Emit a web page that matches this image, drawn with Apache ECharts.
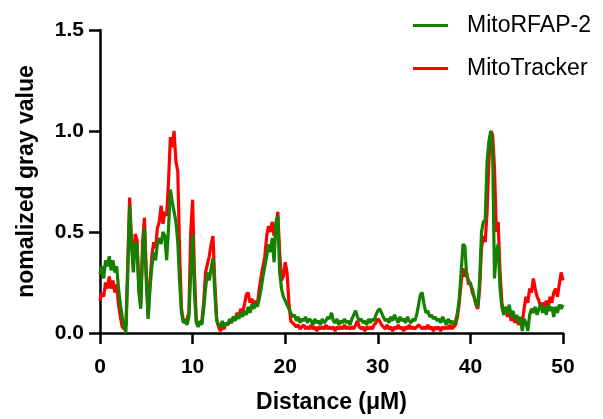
<!DOCTYPE html>
<html>
<head>
<meta charset="utf-8">
<script src="https://cdn.jsdelivr.net/npm/echarts@6/dist/echarts.min.js"></script>
<style>
  html, body { margin: 0; padding: 0; background: #fff; }
  #chart { width: 603px; height: 419px; }
</style>
</head>
<body>
<div id="chart"></div>
<script>
// Line-profile sampling interval along the distance axis (µM)
const distanceStep = 0.2;

// MitoRFAP-2 intensity profile, one row per 2 µM
const mitoRfap2 = [
  0.29,0.33,0.27,0.36,0.33,0.38,0.31,0.36,0.30,0.33,
  0.22,0.14,0.08,0.03,0.00,0.30,0.63,0.44,0.30,0.45,
  0.43,0.20,0.12,0.40,0.52,0.25,0.07,0.22,0.33,0.40,
  0.36,0.44,0.47,0.44,0.50,0.48,0.36,0.52,0.71,0.65,
  0.60,0.55,0.45,0.25,0.10,0.05,0.07,0.04,0.08,0.30,
  0.49,0.20,0.05,0.03,0.06,0.04,0.12,0.22,0.30,0.26,
  0.32,0.37,0.20,0.06,0.04,0.03,0.06,0.03,0.05,0.04,
  0.07,0.05,0.08,0.06,0.09,0.07,0.10,0.08,0.11,0.09,
  0.13,0.10,0.14,0.12,0.15,0.13,0.17,0.22,0.28,0.33,
  0.38,0.44,0.40,0.47,0.35,0.55,0.58,0.30,0.22,0.18,
  0.16,0.14,0.12,0.10,0.08,0.09,0.06,0.08,0.05,0.07,
  0.06,0.08,0.05,0.07,0.06,0.04,0.07,0.05,0.06,0.04,
  0.07,0.05,0.06,0.08,0.07,0.10,0.06,0.05,0.07,0.04,
  0.06,0.05,0.07,0.05,0.06,0.04,0.07,0.09,0.11,0.08,
  0.06,0.07,0.05,0.06,0.04,0.07,0.05,0.07,0.06,0.09,
  0.11,0.12,0.10,0.08,0.06,0.07,0.05,0.08,0.06,0.09,
  0.07,0.05,0.08,0.06,0.07,0.05,0.08,0.06,0.05,0.07,
  0.06,0.09,0.14,0.19,0.20,0.14,0.10,0.11,0.08,0.09,
  0.07,0.08,0.06,0.07,0.05,0.08,0.06,0.04,0.07,0.05,
  0.06,0.04,0.06,0.10,0.17,0.30,0.44,0.43,0.28,0.26,
  0.24,0.22,0.18,0.15,0.13,0.26,0.50,0.55,0.56,0.85,
  0.95,1.00,0.90,0.27,0.40,0.44,0.22,0.13,0.09,0.13,
  0.10,0.14,0.08,0.11,0.07,0.09,0.05,0.08,0.01,0.07,
  0.05,0.01,0.09,0.12,0.10,0.13,0.09,0.12,0.14,0.10,
  0.13,0.09,0.14,0.11,0.13,0.08,0.13,0.10,0.14,0.12,
  0.14
];

// MitoTracker intensity profile, one row per 2 µM
const mitoTracker = [
  0.16,0.20,0.18,0.25,0.22,0.28,0.22,0.26,0.20,0.24,
  0.14,0.08,0.03,0.02,0.04,0.35,0.67,0.46,0.33,0.49,
  0.46,0.22,0.14,0.45,0.57,0.30,0.08,0.25,0.38,0.45,
  0.42,0.52,0.55,0.63,0.54,0.60,0.58,0.75,0.97,0.92,
  1.00,0.85,0.80,0.40,0.12,0.06,0.05,0.07,0.10,0.50,
  0.66,0.30,0.06,0.04,0.05,0.06,0.15,0.30,0.34,0.38,
  0.44,0.48,0.25,0.07,0.03,0.01,0.03,0.02,0.05,0.04,
  0.06,0.05,0.08,0.07,0.10,0.08,0.12,0.10,0.14,0.19,
  0.20,0.15,0.17,0.12,0.16,0.14,0.22,0.28,0.33,0.38,
  0.48,0.53,0.50,0.55,0.48,0.52,0.60,0.40,0.26,0.28,
  0.35,0.30,0.15,0.06,0.05,0.04,0.03,0.04,0.02,0.03,
  0.04,0.02,0.03,0.02,0.04,0.02,0.03,0.01,0.03,0.02,
  0.03,0.02,0.04,0.02,0.03,0.02,0.03,0.01,0.03,0.02,
  0.03,0.02,0.04,0.02,0.03,0.02,0.03,0.02,0.04,0.06,
  0.03,0.02,0.03,0.01,0.03,0.02,0.03,0.02,0.04,0.05,
  0.07,0.06,0.04,0.03,0.02,0.04,0.02,0.03,0.01,0.03,
  0.02,0.04,0.02,0.03,0.01,0.03,0.02,0.04,0.02,0.03,
  0.02,0.03,0.04,0.03,0.02,0.03,0.02,0.04,0.02,0.03,
  0.01,0.03,0.02,0.03,0.01,0.03,0.02,0.03,0.02,0.04,
  0.02,0.03,0.04,0.08,0.15,0.25,0.32,0.28,0.30,0.24,
  0.25,0.20,0.18,0.14,0.12,0.22,0.42,0.48,0.45,0.60,
  0.85,1.00,0.98,0.82,0.50,0.55,0.30,0.15,0.10,0.12,
  0.08,0.11,0.06,0.09,0.05,0.08,0.04,0.07,0.05,0.12,
  0.18,0.15,0.22,0.20,0.27,0.22,0.18,0.16,0.12,0.15,
  0.13,0.16,0.12,0.18,0.15,0.20,0.22,0.18,0.24,0.30,
  0.26
];

const seriesNames = ['MitoRFAP-2', 'MitoTracker'];
const xTicks = [0, 10, 20, 30, 40, 50];
const yTicks = [0, 0.5, 1.0, 1.5];

const toPairs = vals => vals.map((v, i) => [i * distanceStep, v]);

const AXIS_FONT = 'Liberation Sans, Arial, sans-serif';
const GREEN = '#168000';
const RED = '#ff0000';

const chart = echarts.init(document.getElementById('chart'), null, { renderer: 'canvas' });

const axisCommon = {
  axisLine: { show: true, lineStyle: { color: '#000', width: 2.5 } },
  axisTick: { show: true, length: 11, lineStyle: { color: '#000', width: 2.5 } },
  splitLine: { show: false }
};

chart.setOption({
  animation: false,
  backgroundColor: '#fff',
  grid: { left: 100, right: 40, top: 30, bottom: 81, containLabel: false },
  legend: {
    data: seriesNames,
    orient: 'vertical',
    left: 413,
    top: 14,
    icon: 'rect',
    itemWidth: 35,
    itemHeight: 3,
    itemGap: 20,
    padding: 0,
    textStyle: { fontFamily: AXIS_FONT, fontSize: 23, color: '#000', padding: [0, 0, 0, 14] }
  },
  xAxis: Object.assign({}, axisCommon, {
    type: 'value',
    min: xTicks[0],
    max: xTicks[xTicks.length - 1],
    interval: xTicks[1] - xTicks[0],
    name: 'Distance (μM)',
    nameLocation: 'middle',
    nameGap: 58,
    nameTextStyle: { fontFamily: AXIS_FONT, fontWeight: 'bold', fontSize: 23, color: '#000' },
    axisLabel: { margin: 24, fontFamily: AXIS_FONT, fontWeight: 'bold', fontSize: 21, color: '#000' }
  }),
  yAxis: Object.assign({}, axisCommon, {
    type: 'value',
    min: yTicks[0],
    max: yTicks[yTicks.length - 1],
    interval: yTicks[1] - yTicks[0],
    name: 'nomalized gray value',
    nameLocation: 'middle',
    nameGap: 62,
    nameTextStyle: { fontFamily: AXIS_FONT, fontWeight: 'bold', fontSize: 23, color: '#000' },
    axisLabel: {
      margin: 16, fontFamily: AXIS_FONT, fontWeight: 'bold', fontSize: 21, color: '#000',
      formatter: v => v.toFixed(1)
    }
  }),
  series: [
    {
      name: seriesNames[1],
      type: 'line',
      data: toPairs(mitoTracker),
      showSymbol: false,
      color: RED,
      lineStyle: { color: RED, width: 3.2 },
      z: 2
    },
    {
      name: seriesNames[0],
      type: 'line',
      data: toPairs(mitoRfap2),
      showSymbol: false,
      color: GREEN,
      lineStyle: { color: GREEN, width: 3.2 },
      z: 3
    }
  ]
});
</script>
</body>
</html>
